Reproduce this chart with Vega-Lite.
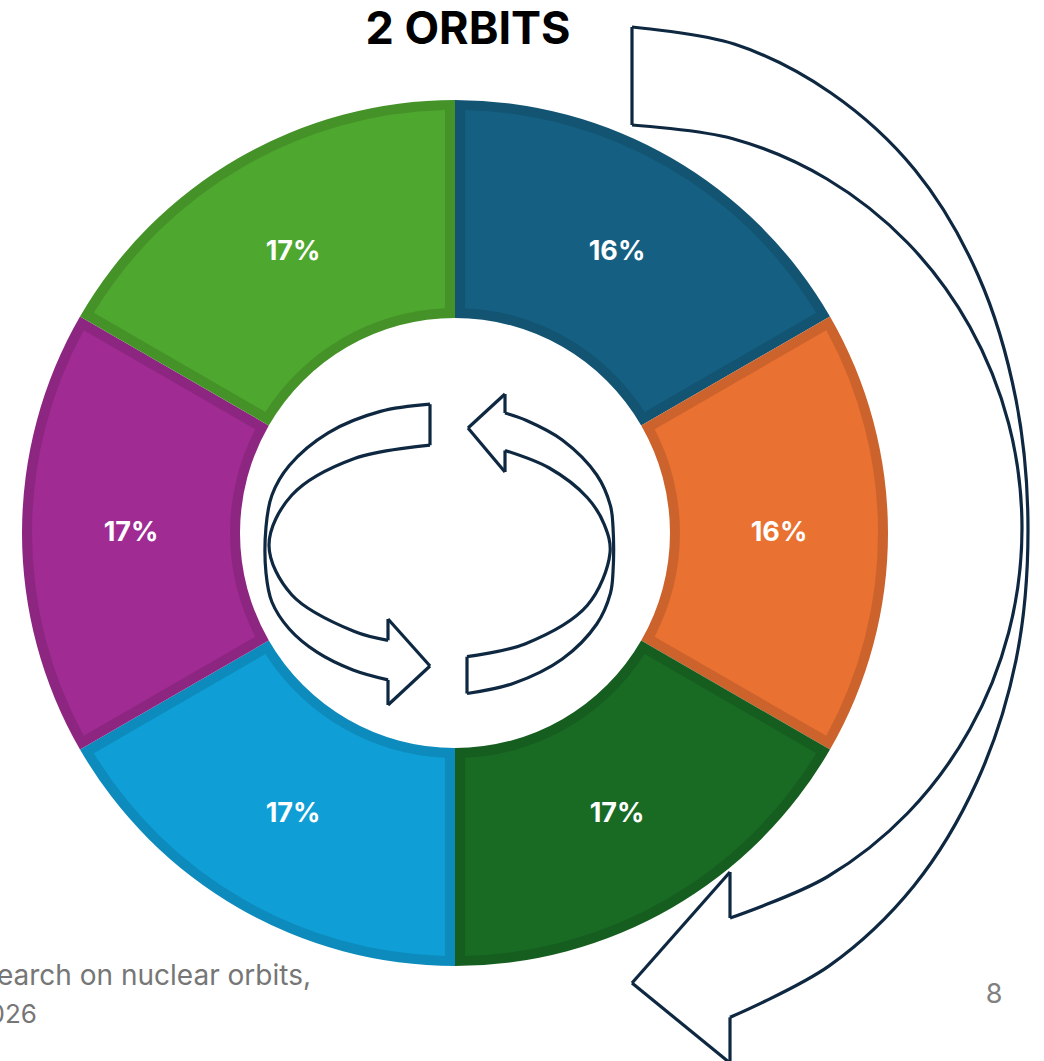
{
  "$schema": "https://vega.github.io/schema/vega-lite/v6.json",
  "width": 1044,
  "height": 1061,
  "autosize": "none",
  "padding": 0,
  "background": "#ffffff",
  "config": {"view": {"stroke": null}},
  "datasets": {
    "donut": [
      {"i": 1, "cat": "A", "v": 16.67, "label": "16%"},
      {"i": 2, "cat": "B", "v": 16.67, "label": "16%"},
      {"i": 3, "cat": "C", "v": 16.67, "label": "17%"},
      {"i": 4, "cat": "D", "v": 16.67, "label": "17%"},
      {"i": 5, "cat": "E", "v": 16.67, "label": "17%"},
      {"i": 6, "cat": "F", "v": 16.67, "label": "17%"}
    ],
    "arrows": [
      {"seg": "big_out", "o": 0, "x": 632, "y": 27},
      {"seg": "big_out", "o": 1, "x": 734.2, "y": 44.1},
      {"seg": "big_out", "o": 2, "x": 831, "y": 93},
      {"seg": "big_out", "o": 3, "x": 915, "y": 170},
      {"seg": "big_out", "o": 4, "x": 978, "y": 275},
      {"seg": "big_out", "o": 5, "x": 1016, "y": 399.8},
      {"seg": "big_out", "o": 6, "x": 1028, "y": 530},
      {"seg": "big_out", "o": 7, "x": 1016, "y": 660.2},
      {"seg": "big_out", "o": 8, "x": 977, "y": 781.5},
      {"seg": "big_out", "o": 9, "x": 914, "y": 885.7},
      {"seg": "big_out", "o": 10, "x": 829.5, "y": 965.6},
      {"seg": "big_out", "o": 11, "x": 730, "y": 1017.3},
      {"seg": "big_in", "o": 0, "x": 632, "y": 125},
      {"seg": "big_in", "o": 1, "x": 732.9, "y": 138.7},
      {"seg": "big_in", "o": 2, "x": 827, "y": 179},
      {"seg": "big_in", "o": 3, "x": 907.8, "y": 243},
      {"seg": "big_in", "o": 4, "x": 969.7, "y": 326.5},
      {"seg": "big_in", "o": 5, "x": 1008.7, "y": 423.7},
      {"seg": "big_in", "o": 6, "x": 1022, "y": 528},
      {"seg": "big_in", "o": 7, "x": 1008.7, "y": 632.3},
      {"seg": "big_in", "o": 8, "x": 969.7, "y": 729.5},
      {"seg": "big_in", "o": 9, "x": 907.8, "y": 813},
      {"seg": "big_in", "o": 10, "x": 827, "y": 877},
      {"seg": "big_in", "o": 11, "x": 730, "y": 918},
      {"seg": "big_flat", "o": 0, "x": 632, "y": 27},
      {"seg": "big_flat", "o": 1, "x": 632, "y": 125},
      {"seg": "big_h1", "o": 0, "x": 730, "y": 918},
      {"seg": "big_h1", "o": 1, "x": 730, "y": 872},
      {"seg": "big_h2", "o": 0, "x": 730, "y": 872},
      {"seg": "big_h2", "o": 1, "x": 632, "y": 983},
      {"seg": "big_h3", "o": 0, "x": 632, "y": 983},
      {"seg": "big_h3", "o": 1, "x": 730, "y": 1063},
      {"seg": "big_h4", "o": 0, "x": 730, "y": 1063},
      {"seg": "big_h4", "o": 1, "x": 730, "y": 1017.3},
      {"seg": "l_out", "o": 0, "x": 430, "y": 404.2},
      {"seg": "l_out", "o": 1, "x": 380.5, "y": 411.4},
      {"seg": "l_out", "o": 2, "x": 328.2, "y": 432.8},
      {"seg": "l_out", "o": 3, "x": 289.3, "y": 465.5},
      {"seg": "l_out", "o": 4, "x": 271.9, "y": 495.2},
      {"seg": "l_out", "o": 5, "x": 266, "y": 527},
      {"seg": "l_out", "o": 6, "x": 266, "y": 573},
      {"seg": "l_out", "o": 7, "x": 271.9, "y": 602},
      {"seg": "l_out", "o": 8, "x": 289.3, "y": 629},
      {"seg": "l_out", "o": 9, "x": 317, "y": 652.2},
      {"seg": "l_out", "o": 10, "x": 353, "y": 670},
      {"seg": "l_out", "o": 11, "x": 388, "y": 679.9},
      {"seg": "l_in", "o": 0, "x": 430, "y": 445.2},
      {"seg": "l_in", "o": 1, "x": 354.5, "y": 458.4},
      {"seg": "l_in", "o": 2, "x": 291.9, "y": 495},
      {"seg": "l_in", "o": 3, "x": 269, "y": 545},
      {"seg": "l_in", "o": 4, "x": 291.9, "y": 595},
      {"seg": "l_in", "o": 5, "x": 354.5, "y": 631.6},
      {"seg": "l_in", "o": 6, "x": 388, "y": 640.3},
      {"seg": "l_flat", "o": 0, "x": 430, "y": 404.2},
      {"seg": "l_flat", "o": 1, "x": 430, "y": 445.2},
      {"seg": "l_h1", "o": 0, "x": 388, "y": 640.3},
      {"seg": "l_h1", "o": 1, "x": 388, "y": 619},
      {"seg": "l_h2", "o": 0, "x": 388, "y": 619},
      {"seg": "l_h2", "o": 1, "x": 430, "y": 666},
      {"seg": "l_h3", "o": 0, "x": 430, "y": 666},
      {"seg": "l_h3", "o": 1, "x": 388, "y": 705},
      {"seg": "l_h4", "o": 0, "x": 388, "y": 705},
      {"seg": "l_h4", "o": 1, "x": 388, "y": 679.9},
      {"seg": "r_out", "o": 0, "x": 467, "y": 693.5},
      {"seg": "r_out", "o": 1, "x": 513.1, "y": 683.5},
      {"seg": "r_out", "o": 2, "x": 562.3, "y": 659},
      {"seg": "r_out", "o": 3, "x": 596.8, "y": 624},
      {"seg": "r_out", "o": 4, "x": 610.4, "y": 593.4},
      {"seg": "r_out", "o": 5, "x": 613, "y": 572},
      {"seg": "r_out", "o": 6, "x": 613, "y": 527},
      {"seg": "r_out", "o": 7, "x": 610.4, "y": 505.6},
      {"seg": "r_out", "o": 8, "x": 596.8, "y": 475},
      {"seg": "r_out", "o": 9, "x": 562.3, "y": 440},
      {"seg": "r_out", "o": 10, "x": 526.5, "y": 420.5},
      {"seg": "r_out", "o": 11, "x": 505, "y": 413},
      {"seg": "r_in", "o": 0, "x": 467, "y": 656.7},
      {"seg": "r_in", "o": 1, "x": 525, "y": 643.9},
      {"seg": "r_in", "o": 2, "x": 587.2, "y": 605.5},
      {"seg": "r_in", "o": 3, "x": 610, "y": 553},
      {"seg": "r_in", "o": 4, "x": 604.2, "y": 524.3},
      {"seg": "r_in", "o": 5, "x": 587.2, "y": 497.5},
      {"seg": "r_in", "o": 6, "x": 549.3, "y": 468},
      {"seg": "r_in", "o": 7, "x": 505, "y": 450.4},
      {"seg": "r_flat", "o": 0, "x": 467, "y": 656.7},
      {"seg": "r_flat", "o": 1, "x": 467, "y": 693.5},
      {"seg": "r_h1", "o": 0, "x": 505, "y": 450.4},
      {"seg": "r_h1", "o": 1, "x": 505, "y": 472},
      {"seg": "r_h2", "o": 0, "x": 505, "y": 472},
      {"seg": "r_h2", "o": 1, "x": 468, "y": 428},
      {"seg": "r_h3", "o": 0, "x": 468, "y": 428},
      {"seg": "r_h3", "o": 1, "x": 505, "y": 394},
      {"seg": "r_h4", "o": 0, "x": 505, "y": 394},
      {"seg": "r_h4", "o": 1, "x": 505, "y": 413}
    ]
  },
  "layer": [
    {
      "data": {"name": "donut"},
      "mark": {"type": "arc", "outerRadius": 433, "innerRadius": 215},
      "encoding": {
        "x": {"datum": 455, "type": "quantitative", "scale": {"domain": [0, 1044], "nice": false, "zero": false}, "axis": null},
        "y": {"datum": 533, "type": "quantitative", "scale": {"domain": [0, 1061], "nice": false, "zero": false, "reverse": true}, "axis": null},
        "theta": {"field": "v", "type": "quantitative", "stack": true},
        "order": {"field": "i"},
        "color": {"field": "cat", "type": "nominal", "legend": null,
          "scale": {"domain": ["A", "B", "C", "D", "E", "F"], "range": ["#125472", "#cd632c", "#165e20", "#0d8bbc", "#8d2681", "#459328"]}}
      }
    },
    {
      "data": {"name": "donut"},
      "mark": {"type": "arc", "outerRadius": 423, "innerRadius": 225, "padAngle": 0.042},
      "encoding": {
        "x": {"datum": 455, "type": "quantitative", "scale": {"domain": [0, 1044], "nice": false, "zero": false}, "axis": null},
        "y": {"datum": 533, "type": "quantitative", "scale": {"domain": [0, 1061], "nice": false, "zero": false, "reverse": true}, "axis": null},
        "theta": {"field": "v", "type": "quantitative", "stack": true},
        "order": {"field": "i"},
        "fill": {"field": "cat", "type": "nominal", "legend": null,
          "scale": {"domain": ["A", "B", "C", "D", "E", "F"], "range": ["#156082", "#E97132", "#196B24", "#0F9ED5", "#A02B93", "#4EA72E"]}}
      }
    },
    {
      "data": {"name": "donut"},
      "mark": {"type": "text", "radius": 324, "font": "Inter", "fontSize": 27, "fontWeight": "bold", "color": "#ffffff", "align": "center", "baseline": "middle"},
      "encoding": {
        "x": {"datum": 455, "type": "quantitative", "scale": {"domain": [0, 1044], "nice": false, "zero": false}, "axis": null},
        "y": {"datum": 533, "type": "quantitative", "scale": {"domain": [0, 1061], "nice": false, "zero": false, "reverse": true}, "axis": null},
        "theta": {"field": "v", "type": "quantitative", "stack": true},
        "order": {"field": "i"},
        "text": {"field": "label"}
      }
    },
    {
      "data": {"name": "arrows"},
      "mark": {"type": "line", "interpolate": "catmull-rom", "stroke": "#0E2841", "strokeWidth": 3.2, "strokeJoin": "miter"},
      "encoding": {
        "x": {"field": "x", "type": "quantitative", "scale": {"domain": [0, 1044], "nice": false, "zero": false}, "axis": null},
        "y": {"field": "y", "type": "quantitative", "scale": {"domain": [0, 1061], "nice": false, "zero": false, "reverse": true}, "axis": null},
        "detail": {"field": "seg"},
        "order": {"field": "o"}
      }
    },
    {
      "data": {"values": [{"t": "2 ORBITS"}]},
      "mark": {"type": "text", "font": "Inter", "fontSize": 45, "fontWeight": "bold", "color": "#000000", "align": "center", "baseline": "alphabetic"},
      "encoding": {
        "x": {"datum": 468, "type": "quantitative", "scale": {"domain": [0, 1044], "nice": false, "zero": false}, "axis": null},
        "y": {"datum": 44, "type": "quantitative", "scale": {"domain": [0, 1061], "nice": false, "zero": false, "reverse": true}, "axis": null},
        "text": {"field": "t"}
      }
    },
    {
      "data": {"values": [{"t": "Research on nuclear orbits,"}]},
      "mark": {"type": "text", "font": "Inter", "fontSize": 28, "color": "#767676", "align": "right", "baseline": "alphabetic"},
      "encoding": {
        "x": {"datum": 311, "type": "quantitative", "scale": {"domain": [0, 1044], "nice": false, "zero": false}, "axis": null},
        "y": {"datum": 985, "type": "quantitative", "scale": {"domain": [0, 1061], "nice": false, "zero": false, "reverse": true}, "axis": null},
        "text": {"field": "t"}
      }
    },
    {
      "data": {"values": [{"t": "2026"}]},
      "mark": {"type": "text", "font": "Inter", "fontSize": 26, "color": "#767676", "align": "right", "baseline": "alphabetic"},
      "encoding": {
        "x": {"datum": 37, "type": "quantitative", "scale": {"domain": [0, 1044], "nice": false, "zero": false}, "axis": null},
        "y": {"datum": 1023, "type": "quantitative", "scale": {"domain": [0, 1061], "nice": false, "zero": false, "reverse": true}, "axis": null},
        "text": {"field": "t"}
      }
    },
    {
      "data": {"values": [{"t": "8"}]},
      "mark": {"type": "text", "font": "Inter", "fontSize": 27, "color": "#808080", "align": "center", "baseline": "alphabetic"},
      "encoding": {
        "x": {"datum": 994, "type": "quantitative", "scale": {"domain": [0, 1044], "nice": false, "zero": false}, "axis": null},
        "y": {"datum": 1003, "type": "quantitative", "scale": {"domain": [0, 1061], "nice": false, "zero": false, "reverse": true}, "axis": null},
        "text": {"field": "t"}
      }
    }
  ]
}
